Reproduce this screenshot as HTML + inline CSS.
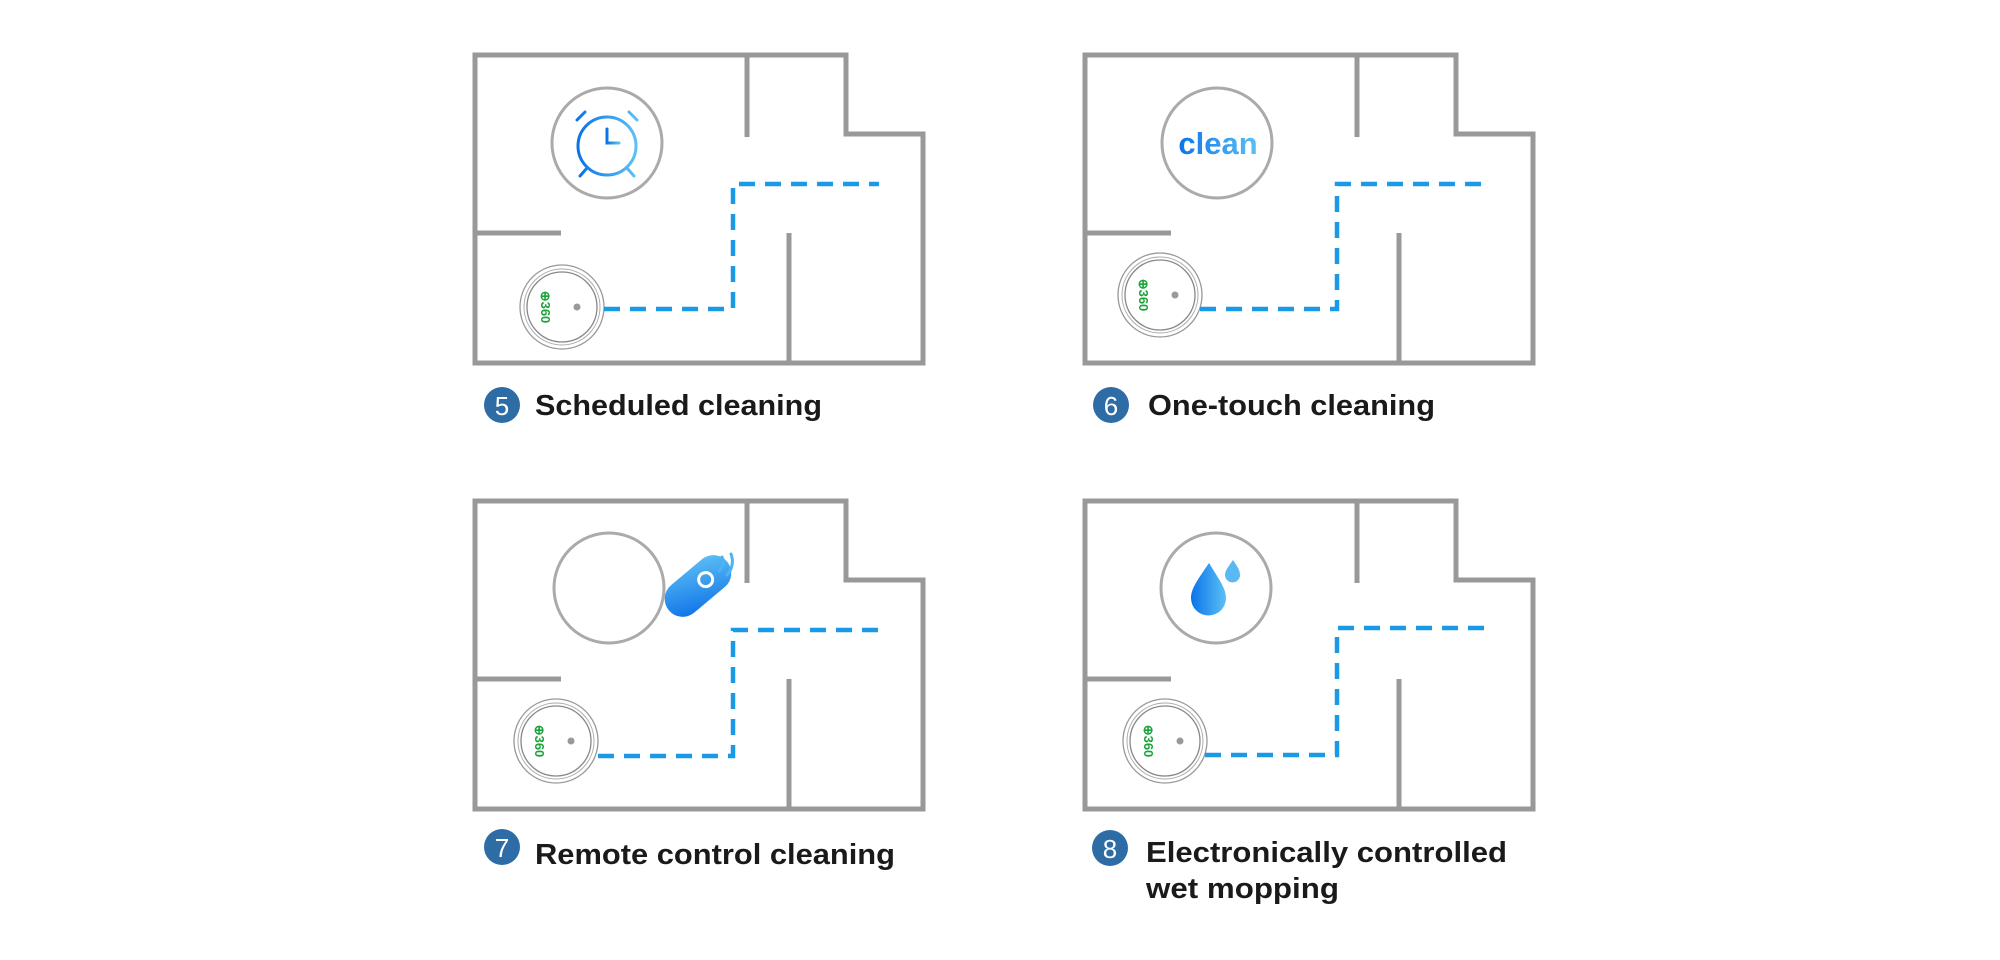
<!DOCTYPE html>
<html><head><meta charset="utf-8"><style>
html,body{margin:0;padding:0;background:#fff;width:2000px;height:960px;overflow:hidden}
svg{display:block}
text{font-family:"Liberation Sans",sans-serif}
</style></head><body>
<svg width="2000" height="960" viewBox="0 0 2000 960" xmlns="http://www.w3.org/2000/svg">
<defs>
<linearGradient id="bg" x1="0" y1="0" x2="1" y2="0"><stop offset="0" stop-color="#0a74e8"/><stop offset="1" stop-color="#5cc0f5"/></linearGradient>
<linearGradient id="bg2" x1="0" y1="1" x2="1" y2="0"><stop offset="0" stop-color="#0a6fe6"/><stop offset="1" stop-color="#62c3f6"/></linearGradient>
<g id="walls" fill="none" stroke="#999" stroke-width="5">
<path d="M475 55 H846 V134 H923 V363 H475 Z"/>
<path d="M747 55 V137"/>
<path d="M475 233 H561"/>
<path d="M789 233 V363"/>
</g>
<g id="robot">
<circle r="42" fill="#fff" stroke="#999" stroke-width="1.3"/>
<circle r="38" fill="none" stroke="#aaa" stroke-width="1"/>
<circle r="35" fill="none" stroke="#888" stroke-width="1.3"/>
<circle cx="15" cy="0" r="3.5" fill="#999"/>
<text x="0" y="0" transform="translate(-17 0) rotate(90)" text-anchor="middle" font-size="13" fill="#1aa33a" font-weight="bold" dy="4">⊕360</text>
</g>
</defs>

<!-- Panel 5 -->
<use href="#walls"/>
<circle cx="607" cy="143" r="55" fill="none" stroke="#aaa" stroke-width="3"/>
<g fill="none" stroke="url(#bg)" stroke-width="3" stroke-linecap="round">
<circle cx="607" cy="146" r="29"/>
<path d="M607 129 V143 H619"/>
<path d="M607 114 V109"/>
<path d="M577 120 L585 112 M637 120 L629 112"/>
<path d="M587 168 L580 176 M627 168 L634 176"/>
</g>
<use href="#robot" x="562" y="307"/>
<path d="M604 309 H733 V184 H879" fill="none" stroke="#1a9ae6" stroke-width="4.5" stroke-dasharray="16 10"/>
<circle cx="502" cy="405" r="18" fill="#2e6ca6"/>
<text x="502" y="415" text-anchor="middle" font-size="26" fill="#fff">5</text>
<text x="535" y="415" font-size="29" font-weight="bold" fill="#1a1a1a" textLength="287" lengthAdjust="spacingAndGlyphs">Scheduled cleaning</text>

<!-- Panel 6 -->
<use href="#walls" x="610"/>
<circle cx="1217" cy="143" r="55" fill="none" stroke="#aaa" stroke-width="3"/>
<text x="1218" y="154" text-anchor="middle" font-size="31" font-weight="bold" fill="url(#bg)">clean</text>
<use href="#robot" x="1160" y="295"/>
<path d="M1200 309 H1337 V184 H1489" fill="none" stroke="#1a9ae6" stroke-width="4.5" stroke-dasharray="16 10"/>
<circle cx="1111" cy="405" r="18" fill="#2e6ca6"/>
<text x="1111" y="415" text-anchor="middle" font-size="26" fill="#fff">6</text>
<text x="1148" y="415" font-size="29" font-weight="bold" fill="#1a1a1a" textLength="287" lengthAdjust="spacingAndGlyphs">One-touch cleaning</text>

<!-- Panel 7 -->
<use href="#walls" y="446"/>
<circle cx="609" cy="588" r="55" fill="none" stroke="#aaa" stroke-width="3"/>
<g transform="translate(698 586) rotate(-40)">
<rect x="-38" y="-18" width="76" height="36" rx="18" fill="url(#bg2)"/>
<circle cx="10" cy="0" r="7" fill="none" stroke="#fff" stroke-width="3"/>
</g>
<g fill="none" stroke="#4db3f2" stroke-width="3" stroke-linecap="round">
<path d="M719 571 A12 12 0 0 0 722 557"/>
<path d="M727 575 A20 20 0 0 0 731 554"/>
</g>
<use href="#robot" x="556" y="741"/>
<path d="M598 756 H733 V630 H879" fill="none" stroke="#1a9ae6" stroke-width="4.5" stroke-dasharray="16 10"/>
<circle cx="502" cy="847" r="18" fill="#2e6ca6"/>
<text x="502" y="857" text-anchor="middle" font-size="26" fill="#fff">7</text>
<text x="535" y="864" font-size="29" font-weight="bold" fill="#1a1a1a" textLength="360" lengthAdjust="spacingAndGlyphs">Remote control cleaning</text>

<!-- Panel 8 -->
<use href="#walls" x="610" y="446"/>
<circle cx="1216" cy="588" r="55" fill="none" stroke="#aaa" stroke-width="3"/>
<path d="M1209 563 C1199 578 1191 588 1191 598 A17 17 0 0 0 1226 598 C1226 588 1218 578 1209 563 Z" fill="url(#bg)"/>
<path d="M1233 560 C1229 566 1225 570 1225 575 A7.5 7.5 0 0 0 1240 575 C1240 570 1237 566 1233 560 Z" fill="#5ab9f3"/>
<use href="#robot" x="1165" y="741"/>
<path d="M1205 755 H1337 V628 H1484" fill="none" stroke="#1a9ae6" stroke-width="4.5" stroke-dasharray="16 10"/>
<circle cx="1110" cy="848" r="18" fill="#2e6ca6"/>
<text x="1110" y="858" text-anchor="middle" font-size="26" fill="#fff">8</text>
<text x="1146" y="862" font-size="29" font-weight="bold" fill="#1a1a1a" textLength="361" lengthAdjust="spacingAndGlyphs">Electronically controlled</text>
<text x="1146" y="898" font-size="29" font-weight="bold" fill="#1a1a1a" textLength="193" lengthAdjust="spacingAndGlyphs">wet mopping</text>
</svg>
</body></html>
